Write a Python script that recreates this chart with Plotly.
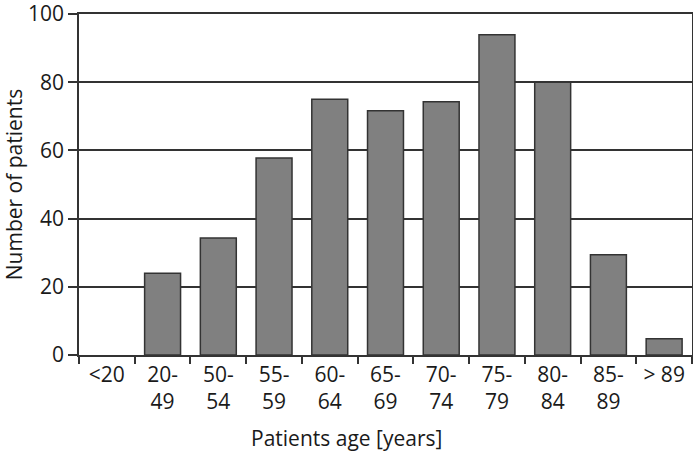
import plotly.graph_objects as go

categories = ["<20", "20-<br>49", "50-<br>54", "55-<br>59", "60-<br>64", "65-<br>69",
              "70-<br>74", "75-<br>79", "80-<br>84", "85-<br>89", "> 89"]
patients = [0, 24, 34.3, 57.8, 75, 71.6, 74.3, 93.9, 80, 29.4, 4.8]
y_ticks = [0, 20, 40, 60, 80, 100]

LINE = "#333333"
FONT = "Open Sans"
FS = 21
W, H = 693, 452
ML, MR, MT, MB = 79, 1, 14, 97

fig = go.Figure(go.Bar(
    x=categories, y=patients,
    marker=dict(color="#808080",
                line=dict(color=LINE, width=[0 if v == 0 else 1.5 for v in patients])),
    width=0.645,
))

fig.update_layout(
    width=W, height=H,
    margin=dict(l=ML, r=MR, t=MT, b=MB),
    plot_bgcolor="white", paper_bgcolor="white",
    font=dict(family=FONT, size=FS, color="#1a1a1a"),
    showlegend=False,
)
fig.update_xaxes(
    type="category", range=[-0.5, 10.5], automargin=False,
    tickson="boundaries", ticks="outside", ticklen=7, tickwidth=1.5, tickcolor=LINE,
    showline=True, linecolor=LINE, linewidth=1.5, mirror=True,
    showgrid=False,
    tickfont=dict(size=FS),
)
fig.update_yaxes(
    range=[0, 100], tickvals=y_ticks, automargin=False,
    ticks="outside", ticklen=9, tickwidth=1.5, tickcolor=LINE,
    showline=True, linecolor=LINE, linewidth=1.5, mirror=True,
    showgrid=True, gridcolor=LINE, gridwidth=1.5,
    zeroline=False, ticklabeloverflow="allow",
    tickfont=dict(size=FS),
    title=dict(text="Number of patients", font=dict(size=FS), standoff=14),
)

# x-axis title centred on the whole figure, as in the reference
fig.add_annotation(
    text="Patients age [years]", showarrow=False,
    xref="paper", yref="paper",
    x=(W / 2 - ML) / (W - ML - MR), y=0,
    xanchor="center", yanchor="middle", yshift=-83,
    font=dict(size=FS, family=FONT, color="#1a1a1a"),
)

fig.write_html("out.html", config={"displayModeBar": False},
               post_script="document.body.style.margin='0';")
